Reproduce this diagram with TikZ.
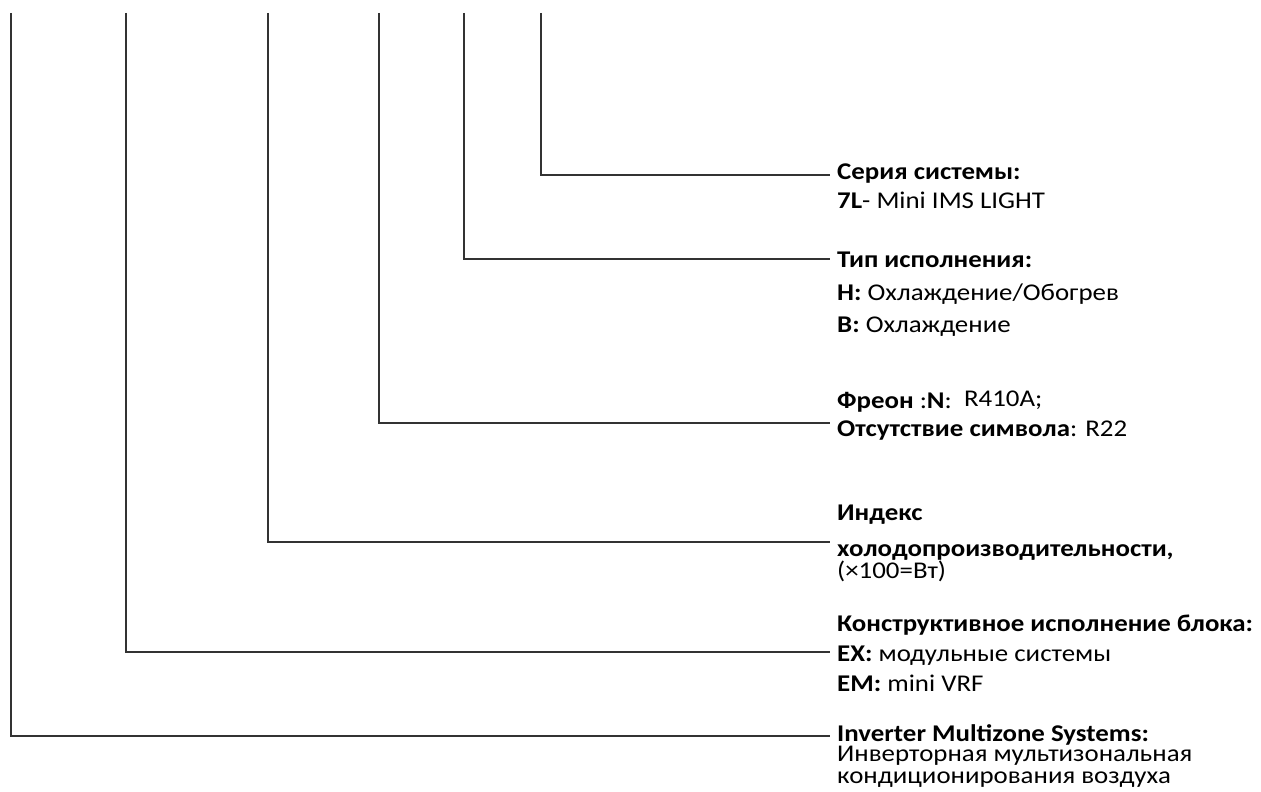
\documentclass[tikz,border=0pt]{standalone}
\usepackage{fontspec}
\setmainfont{Carlito}[FakeStretch=1.12]
\begin{document}
\begin{tikzpicture}[x=1pt, y=-1pt,
    lead/.style={line width=1.5pt, draw=black!80},
    lbl/.style={anchor=base west, inner sep=0pt, font=\fontsize{24}{28}\selectfont}]
  \useasboundingbox (0,0) rectangle (1261,792);
  % tops of the leads
  \coordinate (imsT) at (11,13);
  \coordinate (konT) at (126,13);
  \coordinate (indT) at (268,13);
  \coordinate (freT) at (379,13);
  \coordinate (tipT) at (464,13);
  \coordinate (serT) at (541,13);
  % ends of the leads
  \coordinate (serE) at (830,175);
  \coordinate (tipE) at (830,259);
  \coordinate (freE) at (830,423);
  \coordinate (indE) at (830,542);
  \coordinate (konE) at (830,652);
  \coordinate (imsE) at (830,736);
  \draw[lead] (serT) |- (serE);
  \draw[lead] (tipT) |- (tipE);
  \draw[lead] (freT) |- (freE);
  \draw[lead] (indT) |- (indE);
  \draw[lead] (konT) |- (konE);
  \draw[lead] (imsT) |- (imsE);
  % labels
  \node[lbl] (serA) at (837,179) {\textbf{Серия системы:}};
  \node[lbl] (serB) at (837,208) {\textbf{7L}- Mini IMS LIGHT};
  \node[lbl] (tipA) at (837,267) {\textbf{Тип исполнения:}};
  \node[lbl] (tipB) at (837,300) {\textbf{H:} Охлаждение/Обогрев};
  \node[lbl] (tipC) at (837,332) {\textbf{B:} Охлаждение};
  \node[lbl] (freA) at (837,408) {\textbf{Фреон} :\textbf{N}:\ \ \raisebox{1.5pt}{R410A;}};
  \node[lbl] (freB) at (837,436) {\textbf{Отсутствие символа}: R22};
  \node[lbl] (indA) at (837,520) {\textbf{Индекс}};
  \node[lbl] (indB) at (837,556) {\textbf{холодопроизводительности,}};
  \node[lbl] (indC) at (837,578) {(×100=Вт)};
  \node[lbl] (konA) at (837,631) {\textbf{Конструктивное исполнение блока:}};
  \node[lbl] (konB) at (837,661) {\textbf{EX:} модульные системы};
  \node[lbl] (konC) at (837,691) {\textbf{EM:} mini VRF};
  \node[lbl] (imsA) at (837,741) {\textbf{Inverter Multizone Systems:}};
  \node[lbl] (imsB) at (837,761) {Инверторная мультизональная};
  \node[lbl] (imsC) at (837,783) {кондиционирования воздуха};
\end{tikzpicture}
\end{document}
